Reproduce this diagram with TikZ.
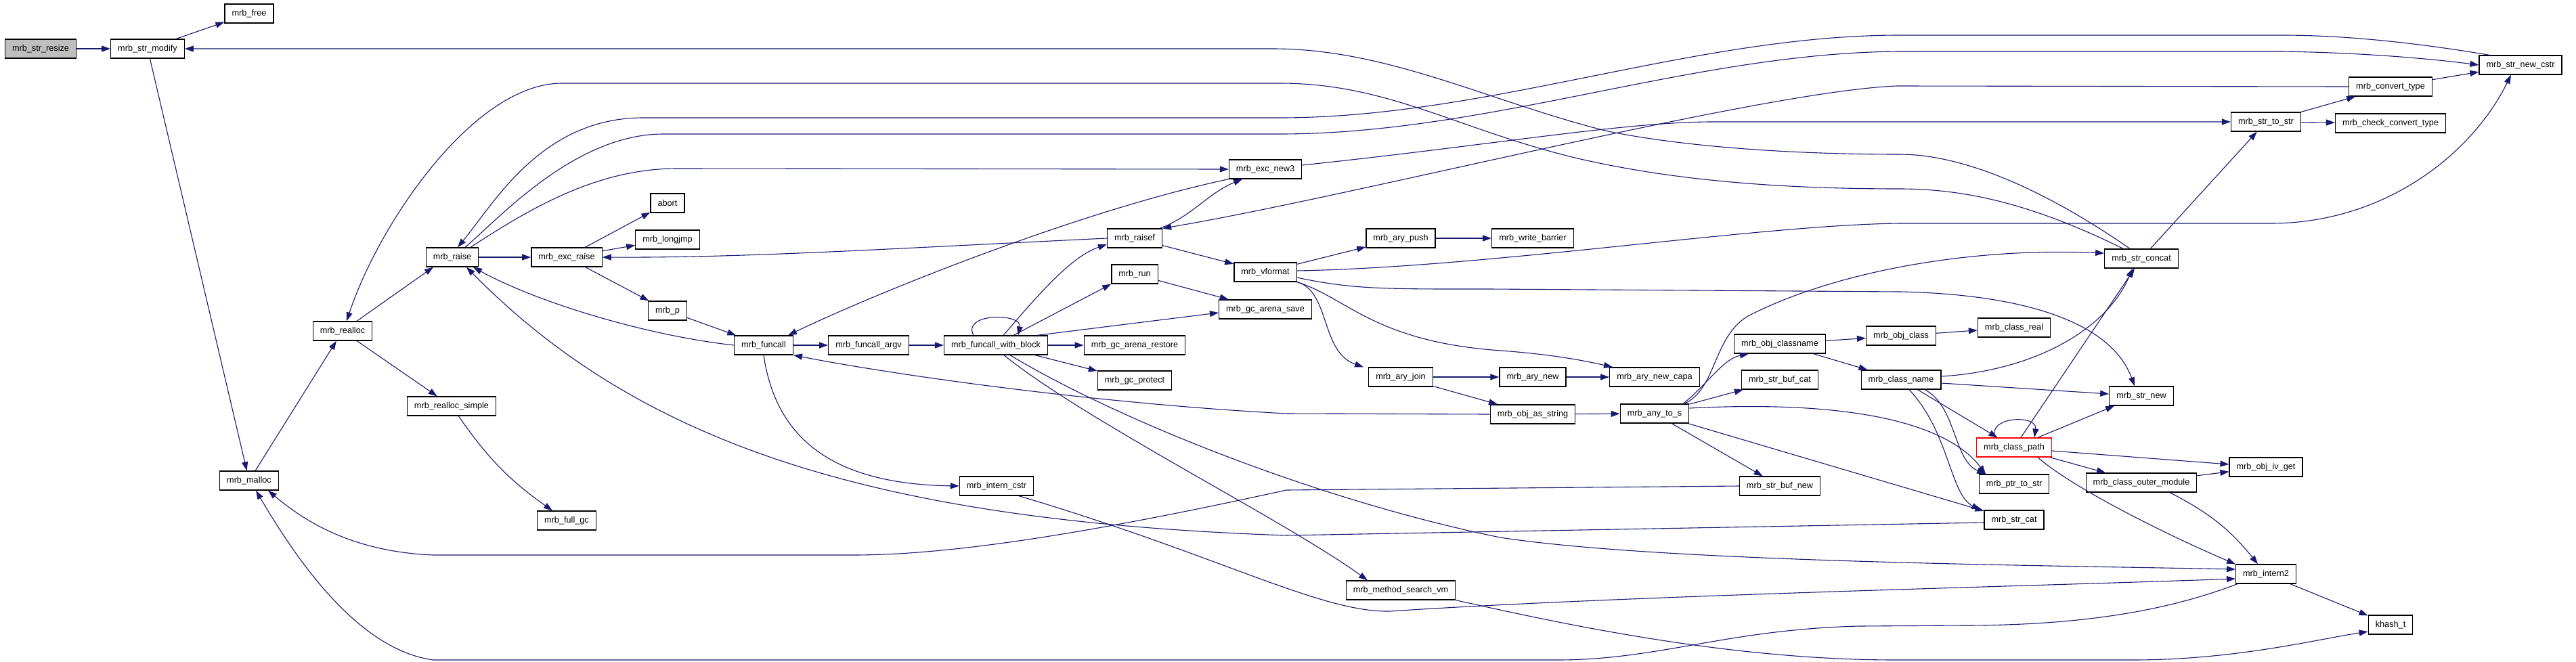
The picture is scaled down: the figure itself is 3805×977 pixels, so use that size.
\documentclass[tikz,border=0pt]{standalone}
\usepackage{fontspec}
\setmainfont{Liberation Sans}
\usepackage{tikz}
\usetikzlibrary{arrows.meta}
\definecolor{edgeblue}{HTML}{191970}
\definecolor{boxgray}{HTML}{BFBFBF}
\begin{document}
\begin{tikzpicture}[
			x=1pt, y=-1pt,
			fn/.style={rectangle,draw=black,line width=1.3pt,fill=white,inner xsep=10.5pt,inner ysep=0pt,minimum height=28pt,font=\fontsize{12.7}{15}\selectfont},
			root/.style={fn,fill=boxgray},
			trunc/.style={fn,draw=red},
			call/.style={draw=edgeblue,line width=1.1pt,-{Stealth[length=13pt,width=9pt,inset=0pt]}},
			]
			\useasboundingbox (0,0) rectangle (3805,977);
			\node [root] (resize) at (60,72) {mrb\_str\_resize};
			\node [fn] (modify) at (218,72) {mrb\_str\_modify};
			\node [fn] (free) at (368,20) {mrb\_free};
			\node [fn] (malloc) at (368,710) {mrb\_malloc};
			\node [fn] (realloc) at (506,489) {mrb\_realloc};
			\node [fn] (rsimple) at (667,600) {mrb\_realloc\_simple};
			\node [fn] (fullgc) at (837,769) {mrb\_full\_gc};
			\node [fn] (raise) at (668,380) {mrb\_raise};
			\node [fn] (excraise) at (837,380) {mrb\_exc\_raise};
			\node [fn] (abort) at (986,300) {abort};
			\node [fn] (longjmp) at (986,354) {mrb\_longjmp};
			\node [fn] (mrbp) at (986,459) {mrb\_p};
			\node [fn] (funcall) at (1128,510) {mrb\_funcall};
			\node [fn] (funcallargv) at (1283,510) {mrb\_funcall\_argv};
			\node [fn] (fwb) at (1471,510) {mrb\_funcall\_with\_block};
			\node [fn] (interncstr) at (1472,718) {mrb\_intern\_cstr};
			\node [fn] (raisef) at (1676,352) {mrb\_raisef};
			\node [fn] (run) at (1676,405) {mrb\_run};
			\node [fn] (gcrestore) at (1676,510) {mrb\_gc\_arena\_restore};
			\node [fn] (gcprotect) at (1676,562) {mrb\_gc\_protect};
			\node [fn] (excnew3) at (1869,250) {mrb\_exc\_new3};
			\node [fn] (vformat) at (1869,402) {mrb\_vformat};
			\node [fn] (gcsave) at (1869,457) {mrb\_gc\_arena\_save};
			\node [fn] (arypush) at (2069,352) {mrb\_ary\_push};
			\node [fn] (wbarrier) at (2264,352) {mrb\_write\_barrier};
			\node [fn] (aryjoin) at (2069,557) {mrb\_ary\_join};
			\node [fn] (arynew) at (2264,557) {mrb\_ary\_new};
			\node [fn] (aryncapa) at (2444,557) {mrb\_ary\_new\_capa};
			\node [fn] (objasstring) at (2264,612) {mrb\_obj\_as\_string};
			\node [fn] (anytos) at (2444,611) {mrb\_any\_to\_s};
			\node [fn] (msv) at (2069,872) {mrb\_method\_search\_vm};
			\node [fn] (objclassname) at (2629,508) {mrb\_obj\_classname};
			\node [fn] (strbufcat) at (2629,561) {mrb\_str\_buf\_cat};
			\node [fn] (strbufnew) at (2629,718) {mrb\_str\_buf\_new};
			\node [fn] (objclass) at (2808,496) {mrb\_obj\_class};
			\node [fn] (classreal) at (2975,484) {mrb\_class\_real};
			\node [fn] (classname) at (2808,561) {mrb\_class\_name};
			\node [trunc] (classpath) at (2975,661) {mrb\_class\_path};
			\node [fn] (ptrtostr) at (2975,715) {mrb\_ptr\_to\_str};
			\node [fn] (strcat) at (2975,768) {mrb\_str\_cat};
			\node [fn] (strconcat) at (3163,382) {mrb\_str\_concat};
			\node [fn] (strnew) at (3163,585) {mrb\_str\_new};
			\node [fn] (outermod) at (3163,713) {mrb\_class\_outer\_module};
			\node [fn] (strnewcstr) at (3723,96) {mrb\_str\_new\_cstr};
			\node [fn] (convtype) at (3531,128) {mrb\_convert\_type};
			\node [fn] (strtostr) at (3347,180) {mrb\_str\_to\_str};
			\node [fn] (checkconv) at (3531,182) {mrb\_check\_convert\_type};
			\node [fn] (objivget) at (3347,690) {mrb\_obj\_iv\_get};
			\node [fn] (intern2) at (3347,848) {mrb\_intern2};
			\node [fn] (khasht) at (3531,923) {khash\_t};
			\draw [call] (resize) -- (modify);
			\draw [call] (modify) -- (free);
			\draw [call] (modify) -- (malloc);
			\draw [call] (malloc) -- (realloc);
			\draw [call] ([xshift=21pt]realloc.north) -- ([xshift=-28pt]raise.south);
			\draw [call] (realloc) -- (rsimple);
			\draw [call] (rsimple) to[bend right=10] (fullgc);
			\draw [call] (raise) -- (excraise);
			\draw [call] (excraise) -- (abort);
			\draw [call] (excraise) -- (longjmp);
			\draw [call] (excraise) -- (mrbp);
			\draw [call] (mrbp) -- (funcall);
			\draw [call] (funcall.west) .. controls (950,495) and (790,445) .. ([xshift=31pt]raise.south);
			\draw [call] (funcall) -- (funcallargv);
			\draw [call] (funcallargv) -- (fwb);
			\draw [call] (funcall.south) .. controls (1145,640) and (1220,715) .. (interncstr.west);
			\draw [call] ([xshift=-33pt]fwb.north) .. controls (1420,462) and (1510,462) .. ([xshift=33pt]fwb.north);
			\draw [call] ([xshift=11pt]fwb.north) .. controls (1530,440) and (1580,380) .. ([yshift=-9pt]raisef.west);
			\draw [call] ([xshift=26pt]fwb.north) -- (run.south west);
			\draw [call] ([xshift=61pt]fwb.north) -- ([yshift=-5pt]gcsave.west);
			\draw [call] (fwb) -- (gcrestore);
			\draw [call] (fwb) -- (gcprotect);
			\draw [call] ([xshift=12pt]fwb.south) .. controls (1600,620) and (1900,770) .. ([xshift=-49pt]msv.north);
			\draw [call] ([xshift=21pt]fwb.south) .. controls (1650,620) and (1950,740) .. (2216,794) .. controls (2450,830) and (3000,835) .. ([yshift=7pt]intern2.west);
			\draw [call] (run) -- (gcsave);
			\draw [call] ([xshift=37pt]raisef.north) .. controls (1760,320) and (1785,285) .. ([xshift=-34pt]excnew3.south);
			\draw [call] (raisef) -- (vformat);
			\draw [call] (raisef.west) .. controls (1300,368) and (1100,381) .. (excraise.east);
			\draw [call] (excnew3.south west) .. controls (1600,310) and (1300,430) .. ([xshift=-8pt]funcall.north east);
			\draw [call] ([xshift=27pt]raise.north) .. controls (780,310) and (880,249) .. (1000,249) -- (excnew3.west);
			\draw [call] ([xshift=19pt]raise.north) .. controls (740,320) and (850,198) .. (980,198) -- (1890,198) .. controls (2200,198) and (2500,78) .. (2806,76) -- (3370,76) .. controls (3500,78) and (3600,88) .. (strnewcstr.west);
			\draw [call] ([xshift=-46pt]strnewcstr.north) .. controls (3550,60) and (3450,52) .. (3370,52) -- (2806,52) .. controls (2500,52) and (2200,174) .. (1890,174) -- (950,174) .. controls (800,174) and (730,300) .. ([xshift=8pt]raise.north);
			\draw [call] ([xshift=-17pt]strconcat.north) .. controls (3020,280) and (2900,228) .. (2806,228) .. controls (2600,228) and (2450,210) .. (2371,193) .. controls (2200,150) and (2050,72) .. (1880,72) -- (modify.east);
			\draw [call] ([xshift=-27pt]strconcat.north) .. controls (3000,300) and (2900,279) .. (2806,279) .. controls (2600,279) and (2450,262) .. (2326,233) .. controls (2150,190) and (2050,123) .. (1890,123) -- (830,123) .. controls (700,123) and (560,330) .. ([xshift=6pt]realloc.north);
			\draw [call] (convtype.west) -- (2802,127) .. controls (2600,135) and (2000,290) .. (raisef.north east);
			\draw [call] ([yshift=6pt]excnew3.east) .. controls (2200,215) and (2400,180) .. (2530,180) -- (strtostr.west);
			\draw [call] ([yshift=2pt]vformat.east) .. controls (2200,395) and (2600,332) .. (2806,330) -- (3354,330) .. controls (3520,330) and (3650,230) .. ([xshift=-14pt]strnewcstr.south);
			\draw [call] ([yshift=-8pt]vformat.east) .. controls (2000,428) and (2050,427) .. (2200,427) -- (2806,431) .. controls (3000,435) and (3120,480) .. ([xshift=-10pt]strnew.north);
			\draw [call] (vformat) -- (arypush);
			\draw [call] (arypush) -- (wbarrier);
			\draw [call] (vformat.south east) .. controls (1965,430) and (1950,520) .. ([xshift=-55pt]aryjoin.north);
			\draw [call] (vformat.south east) .. controls (1990,440) and (2030,505) .. (2217,518) .. controls (2300,524) and (2350,535) .. ([xshift=-62pt]aryncapa.north);
			\draw [call] (aryjoin) -- (arynew);
			\draw [call] (arynew) -- (aryncapa);
			\draw [call] (aryjoin) -- (objasstring);
			\draw [call] (objasstring) -- (anytos);
			\draw [call] (objasstring.west) -- (1900,611) .. controls (1600,595) and (1300,550) .. (funcall.south east);
			\draw [call] ([xshift=42pt]anytos.north) .. controls (2520,570) and (2545,530) .. ([xshift=-46pt]objclassname.south);
			\draw [call] ([xshift=44pt]anytos.north) .. controls (2535,575) and (2530,500) .. (2580,468) .. controls (2700,405) and (2900,365) .. ([yshift=8pt]strconcat.west);
			\draw [call] (anytos) -- (strbufcat);
			\draw [call] ([yshift=8pt]anytos.east) .. controls (2750,590) and (2880,630) .. ([xshift=-42pt]ptrtostr.north);
			\draw [call] (anytos) -- (strcat);
			\draw [call] (anytos) -- (strbufnew);
			\draw [call] (strbufnew.west) -- (1900,724) .. controls (1600,790) and (1400,820) .. (1260,820) -- (640,820) .. controls (520,815) and (450,770) .. ([xshift=28pt]malloc.south);
			\draw [call] ([xshift=-42pt]intern2.south) .. controls (3220,895) and (3100,924) .. (2900,924) -- (2746,925) .. controls (2550,930) and (2450,975) .. (2300,975) -- (640,975) .. controls (530,960) and (440,830) .. ([xshift=10pt]malloc.south);
			\draw [call] (msv.south east) .. controls (2300,920) and (2550,975) .. (2800,975) -- (3150,975) .. controls (3300,975) and (3420,945) .. ([yshift=-10pt]khasht.west);
			\draw [call] (intern2) -- (khasht);
			\draw [call] ([xshift=42pt]outermod.south) to[bend left=12] ([xshift=-12pt]intern2.north);
			\draw [call] ([xshift=35pt]classpath.south) .. controls (3060,720) and (3200,790) .. (intern2.north west);
			\draw [call] ([xshift=33pt]interncstr.south) .. controls (1800,820) and (1950,905) .. (2053,903) .. controls (2400,880) and (3000,866) .. ([yshift=-7pt]intern2.west);
			\draw [call] ([yshift=-4pt]strcat.west) -- (1900,791) .. controls (1300,770) and (950,660) .. ([xshift=21pt]raise.south);
			\draw [call] (objclassname) -- (objclass);
			\draw [call] (objclass) -- (classreal);
			\draw [call] (objclassname) -- (classname);
			\draw [call] ([yshift=5pt]classname.east) .. controls (3000,548) and (3110,490) .. ([xshift=-13pt]strconcat.south);
			\draw [call] ([yshift=-5pt]classname.east) -- ([yshift=3pt]strnew.west);
			\draw [call] (classname) -- (classpath);
			\draw [call] ([xshift=35pt]classname.south) .. controls (2890,600) and (2885,680) .. ([xshift=-42pt]ptrtostr.north);
			\draw [call] ([xshift=12pt]classname.south) .. controls (2880,640) and (2880,730) .. ([xshift=-50pt]strcat.north);
			\draw [call] ([xshift=-28pt]classpath.north) .. controls (2935,615) and (3010,612) .. ([xshift=30pt]classpath.north);
			\draw [call] ([xshift=10pt]classpath.north) -- ([xshift=-10pt]strconcat.south);
			\draw [call] ([xshift=35pt]classpath.north) -- ([xshift=-40pt]strnew.south);
			\draw [call] ([yshift=-5pt]classpath.east) -- ([yshift=4pt]objivget.west);
			\draw [call] (classpath) -- (outermod);
			\draw [call] (outermod) -- (objivget);
			\draw [call] (strconcat) -- (strtostr);
			\draw [call] (strtostr) -- (convtype);
			\draw [call] (strtostr) -- (checkconv);
			\draw [call] (convtype) -- (strnewcstr);
		\end{tikzpicture}
\end{document}
